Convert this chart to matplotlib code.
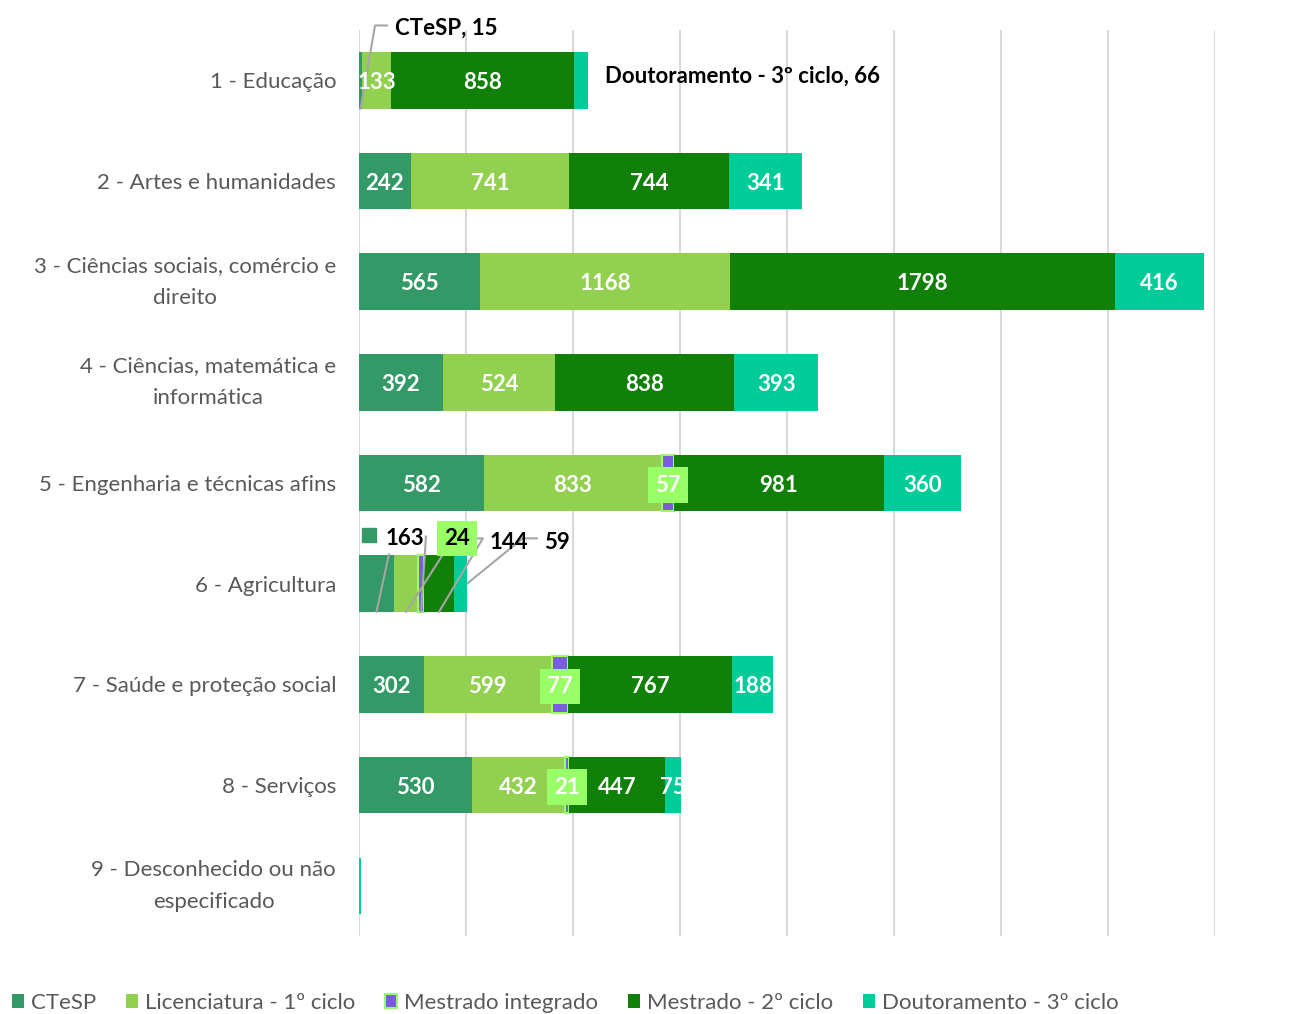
import matplotlib.pyplot as plt
import numpy as np
from matplotlib.patches import Rectangle

plt.rcParams['font.family'] = ['Lato', 'DejaVu Sans']

categories = [
    "1 - Educação",
    "2 - Artes e humanidades",
    "3 - Ciências sociais, comércio e\ndireito",
    "4 - Ciências, matemática e\ninformática",
    "5 - Engenharia e técnicas afins",
    "6 - Agricultura",
    "7 - Saúde e proteção social",
    "8 - Serviços",
    "9 - Desconhecido ou não\nespecificado",
]
series_names = ["CTeSP", "Licenciatura - 1º ciclo", "Mestrado integrado",
                "Mestrado - 2º ciclo", "Doutoramento - 3º ciclo"]
ctesp = [15, 242, 565, 392, 582, 163, 302, 530, 0]
licenciatura = [133, 741, 1168, 524, 833, 115, 599, 432, 0]
mestrado_integrado = [0, 0, 0, 0, 57, 24, 77, 21, 0]
mestrado = [858, 744, 1798, 838, 981, 144, 767, 447, 0]
doutoramento = [66, 341, 416, 393, 360, 59, 188, 75, 8]

colors = ["#339966", "#92D050", "#7B5CDB", "#108009", "#00CC99"]
mi_edge = "#99FF66"
leader = "#A6A6A6"
text_gray = "#595959"

data = np.array([ctesp, licenciatura, mestrado_integrado, mestrado, doutoramento], dtype=float)
y = np.arange(len(categories))
bar_h = 0.56
fs = 16

fig = plt.figure(figsize=(13.14, 10.14), dpi=100)
ax = fig.add_axes([0.2732, 0.0769, 0.6515, 0.8935])

lefts = np.zeros(len(categories))
starts = []
for i, (vals, c) in enumerate(zip(data, colors)):
    starts.append(lefts.copy())
    if i == 2:
        lw = [1.5 if v > 0 else 0 for v in vals]
        ax.barh(y, vals, left=lefts, height=bar_h, color=c, edgecolor=mi_edge,
                linewidth=lw, zorder=3)
    else:
        ax.barh(y, vals, left=lefts, height=bar_h, color=c, linewidth=0, zorder=3)
    lefts = lefts + vals
starts = np.array(starts)

# value labels inside the segments
label_font = dict(fontsize=fs, fontweight='bold', ha='center', va='center_baseline')
skip = {(0, 0), (4, 0), (0, 5), (1, 5), (2, 5), (3, 5), (4, 5), (4, 8)}
for s in range(5):
    for k in range(len(categories)):
        v = data[s, k]
        if v <= 0 or (s, k) in skip:
            continue
        cx = starts[s, k] + v / 2
        if s == 2:
            ax.text(cx, k, f"{v:.0f}", color="white", zorder=6,
                    bbox=dict(boxstyle="square,pad=0.33", fc=mi_edge, ec="none"),
                    **label_font)
        else:
            ax.text(cx, k, f"{v:.0f}", color="white", zorder=5, **label_font)

# Educação: labels outside the bar
k = 0
bottom = k + bar_h / 2
cx = starts[0, k] + ctesp[k] / 2
ax.plot([131, 75, cx], [-0.545, -0.545, bottom], color=leader, lw=1.5, zorder=4, clip_on=False)
ax.text(168, -0.537, f"{series_names[0]}, {ctesp[k]}", fontsize=fs, fontweight='bold',
        ha='left', va='center_baseline', clip_on=False)
ax.text(1148, -0.06, f"{series_names[4]}, {doutoramento[k]}", fontsize=fs,
        fontweight='bold', ha='left', va='center_baseline')

# Agricultura: callouts above the bar
k = 5
bottom = k + bar_h / 2
centers = starts[:, k] + data[:, k] / 2
lw_lead = dict(color=leader, lw=1.5, zorder=4)
ax.plot([140, centers[0]], [4.71, bottom], **lw_lead)
ax.plot([392, centers[1]], [4.71, bottom], **lw_lead)
ax.plot([312, 313, centers[2]], [4.53, 4.53, bottom], **lw_lead)
ax.plot([519, 579, centers[3]], [4.55, 4.55, bottom], **lw_lead)
ax.plot([831, 765, lefts[k]], [4.55, 4.55, k], **lw_lead)
ax.plot([47], [4.52], marker='s', markersize=9.5, color=colors[0], linestyle='none', zorder=5)
ax.text(215, 4.53, f"{ctesp[k]}", fontsize=fs, fontweight='bold', ha='center',
        va='center_baseline')
ax.text(458, 4.53, f"{mestrado_integrado[k]}", fontsize=fs, fontweight='bold',
        ha='center', va='center_baseline', zorder=6,
        bbox=dict(boxstyle="square,pad=0.33", fc=mi_edge, ec="none"))
ax.text(700, 4.57, f"{mestrado[k]}", fontsize=fs, fontweight='bold', ha='center',
        va='center_baseline', zorder=6)
ax.text(924, 4.57, f"{doutoramento[k]}", fontsize=fs, fontweight='bold', ha='center',
        va='center_baseline', zorder=6)

ax.set_xlim(0, 4000)
ax.set_ylim(len(categories) - 0.5, -0.5)
ax.set_xticks(np.arange(0, 4001, 500))
ax.xaxis.grid(True, color="#D9D9D9", lw=1.5, zorder=0)
ax.tick_params(axis='x', length=0, labelbottom=False)
ax.tick_params(axis='y', length=0, pad=16.5)
ax.set_yticks(y)
ax.set_yticklabels(categories, fontsize=fs, color=text_gray, multialignment='center',
                   linespacing=1.75)
for lab in ax.get_yticklabels():
    if "\n" in lab.get_text():
        lab.set_va('center')
for sp in ax.spines.values():
    sp.set_visible(False)

handles = []
for i, c in enumerate(colors):
    if i == 2:
        handles.append(Rectangle((0, 0), 1, 1, fc=c, ec=mi_edge, lw=1.5))
    else:
        handles.append(Rectangle((0, 0), 1, 1, fc=c, ec="none"))
fig.legend(handles, series_names, loc='center left', bbox_to_anchor=(0.009, 0.011),
           ncol=5, frameon=False, fontsize=fs, labelcolor=text_gray,
           handlelength=0.55, handleheight=0.55, handletextpad=0.3,
           columnspacing=1.35, borderaxespad=0, borderpad=0)

fig.savefig("out.png", dpi=100)
